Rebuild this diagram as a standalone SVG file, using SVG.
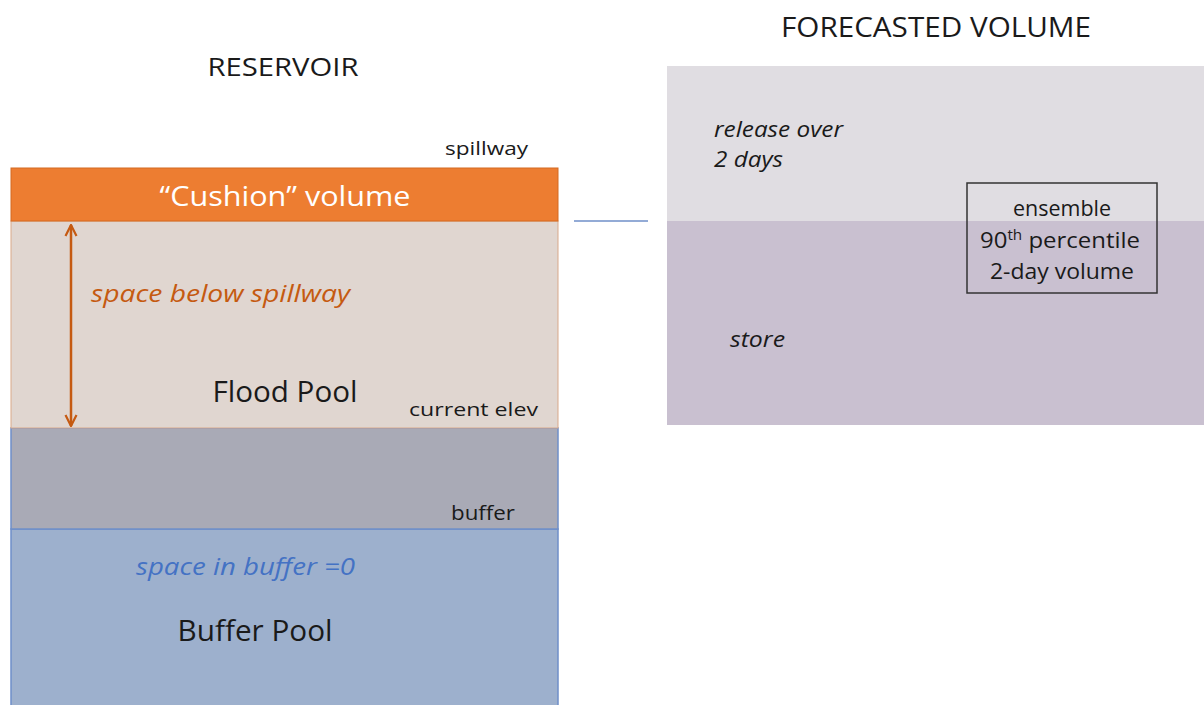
<svg xmlns="http://www.w3.org/2000/svg" width="1204" height="705" viewBox="0 0 1204 705">
<style>
text{font-family:"Open Sans","Liberation Sans",sans-serif;fill:#1a1a1a}
.c{text-anchor:middle}
.i{font-style:italic}
</style>
<defs>
<marker id="ah" viewBox="0 0 10 10" refX="9" refY="5" markerWidth="5.5" markerHeight="5.5" orient="auto-start-reverse" markerUnits="strokeWidth">
<path d="M1,1 L9,5 L1,9" fill="none" stroke="#C55A11" stroke-width="1.6"/>
</marker>
</defs>
<rect width="1204" height="705" fill="#fff"/>
<text class="c" x="283" y="76" font-size="25" textLength="151" lengthAdjust="spacingAndGlyphs">RESERVOIR</text>
<text class="c" x="936" y="37" font-size="27" textLength="310" lengthAdjust="spacingAndGlyphs">FORECASTED VOLUME</text>
<g id="buffer-pool">
<rect x="11" y="529" width="547" height="180" fill="#9DB0CD" stroke="#6F8FC9" stroke-width="1.5"/>
<text class="i" x="136" y="575" font-size="23" style="fill:#4472C4" textLength="219" lengthAdjust="spacingAndGlyphs">space in buffer =0</text>
<text class="c" x="255" y="641" font-size="29" textLength="155" lengthAdjust="spacingAndGlyphs">Buffer Pool</text>
</g>
<g id="buffer-zone">
<rect x="11" y="428" width="547" height="101" fill="#A9AAB6" stroke="#6F8FC9" stroke-width="1.5"/>
<text x="451" y="520" font-size="20" textLength="64" lengthAdjust="spacingAndGlyphs">buffer</text>
</g>
<g id="flood-pool">
<rect x="11" y="221" width="547" height="207" fill="#E0D6D0" stroke="#D9A98A" stroke-width="1"/>
<text class="i" x="91" y="302" font-size="24" style="fill:#C55A11" textLength="259" lengthAdjust="spacingAndGlyphs">space below spillway</text>
<text class="c" x="285" y="402" font-size="29" textLength="145" lengthAdjust="spacingAndGlyphs">Flood Pool</text>
<text x="409" y="416" font-size="19" textLength="129" lengthAdjust="spacingAndGlyphs">current elev</text>
</g>
<g id="cushion">
<rect x="11" y="168" width="547" height="53" fill="#ED7D31" stroke="#D46A22" stroke-width="1"/>
<text class="c" x="285" y="206" font-size="28" style="fill:#fff" textLength="251" lengthAdjust="spacingAndGlyphs">“Cushion” volume</text>
<text x="445" y="155" font-size="19" textLength="83" lengthAdjust="spacingAndGlyphs">spillway</text>
</g>
<g id="release">
<rect x="667" y="66" width="537" height="155" fill="#E0DDE2"/>
<text class="i" x="714" y="137" font-size="21" textLength="129" lengthAdjust="spacingAndGlyphs">release over</text>
<text class="i" x="714" y="167" font-size="21" textLength="69" lengthAdjust="spacingAndGlyphs">2 days</text>
</g>
<g id="store">
<rect x="667" y="221" width="537" height="204" fill="#C9C0D0"/>
<text class="i" x="730" y="347" font-size="21" textLength="55" lengthAdjust="spacingAndGlyphs">store</text>
</g>
<g id="ensemble">
<rect x="967" y="183" width="190" height="110" fill="none" stroke="#333" stroke-width="1.5"/>
<text class="c" x="1062" y="216" font-size="22" textLength="98" lengthAdjust="spacingAndGlyphs">ensemble</text>
<text class="c" x="1060" y="248" font-size="22" textLength="160" lengthAdjust="spacingAndGlyphs">90<tspan font-size="14" dy="-8">th</tspan><tspan dy="8"> percentile</tspan></text>
<text class="c" x="1062" y="279" font-size="22" textLength="144" lengthAdjust="spacingAndGlyphs">2-day volume</text>
</g>
<g id="connectors">
<line x1="574" y1="221" x2="648" y2="221" stroke="#6F8FC9" stroke-width="1.5"/>
<line x1="71" y1="225" x2="71" y2="426" stroke="#C55A11" stroke-width="2.5" marker-start="url(#ah)" marker-end="url(#ah)"/>
</g>
</svg>
